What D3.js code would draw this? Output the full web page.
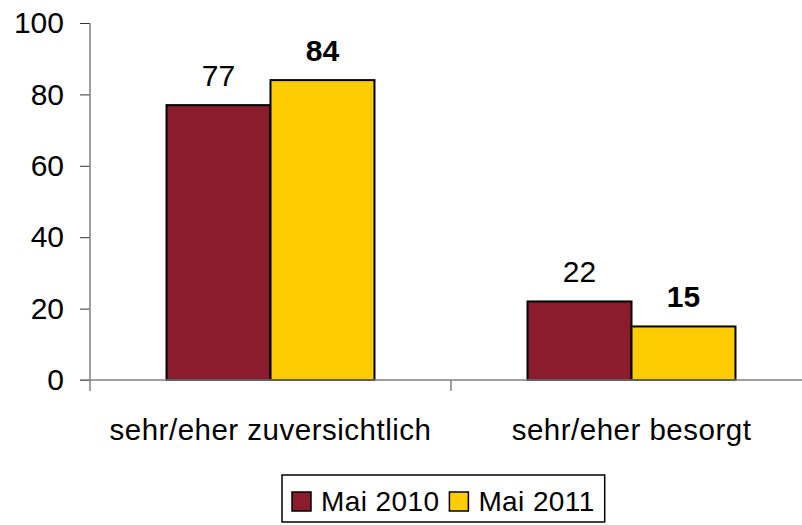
<!DOCTYPE html>
<html>
<head>
<meta charset="utf-8">
<script src="https://cdn.jsdelivr.net/npm/d3@7"></script>
<style>
  body { margin: 0; background: #fff; }
  text { font-family: "Liberation Sans", Arial, sans-serif; fill: #000; }
</style>
</head>
<body>
<script>
(function () {

// data
var categories = ["sehr/eher zuversichtlich", "sehr/eher besorgt"];
var seriesNames = ["Mai 2010", "Mai 2011"];
var values2010 = [77, 22];
var values2011 = [84, 15];
var yTicks = [0, 20, 40, 60, 80, 100];

var colors = ["#8b1c2e", "#ffcc00"];

var width = 802;
var height = 525;

var svg = d3.select("body")
  .append("svg")
    .attr("width", width)
    .attr("height", height);

// plot area (runs past the right edge, like the cropped original)
var left = 90, right = 812, top = 23, bottom = 380;

var y = d3.scaleLinear()
    .domain([0, 100])
    .range([bottom, top]);

var x0 = d3.scaleBand()
    .domain(categories)
    .range([left, right]);

var x1 = d3.scaleBand()
    .domain(seriesNames)
    .range([0, x0.bandwidth()])
    .paddingInner(0)
    .paddingOuter(0.736);

var rows = categories.map(function (c, i) {
  return { cat: c, vals: [
    { name: seriesNames[0], v: values2010[i], bold: false },
    { name: seriesNames[1], v: values2011[i], bold: true }
  ] };
});

var axisColor = "#808080";

// y axis
var yAxis = svg.append("g")
    .attr("transform", "translate(" + left + ",0)")
    .call(d3.axisLeft(y).tickValues(yTicks).tickSize(10).tickPadding(16));
yAxis.select(".domain").remove();
yAxis.selectAll(".tick line").attr("stroke", "#333");
yAxis.selectAll(".tick text")
    .attr("font-size", 30)
    .attr("font-family", "Liberation Sans, Arial, sans-serif")
    .attr("fill", "#000");
svg.append("line")
    .attr("x1", left).attr("x2", left)
    .attr("y1", top).attr("y2", bottom + 11)
    .attr("stroke", axisColor).attr("stroke-width", 1.5);

// bars
var groups = svg.selectAll(".grp")
    .data(rows)
    .enter()
    .append("g")
    .attr("class", "grp")
    .attr("transform", function (d) { return "translate(" + x0(d.cat) + ",0)"; });

groups.selectAll("rect")
    .data(function (d) { return d.vals; })
    .enter()
    .append("rect")
    .attr("x", function (d) { return x1(d.name); })
    .attr("y", function (d) { return y(d.v); })
    .attr("width", x1.bandwidth())
    .attr("height", function (d) { return y(0) - y(d.v); })
    .attr("fill", function (d, i) { return colors[i]; })
    .attr("stroke", "#000")
    .attr("stroke-width", 2);

groups.selectAll(".lbl")
    .data(function (d) { return d.vals; })
    .enter()
    .append("text")
    .attr("class", "lbl")
    .attr("x", function (d) { return x1(d.name) + x1.bandwidth() / 2; })
    .attr("y", function (d) { return y(d.v) - 19; })
    .attr("text-anchor", "middle")
    .attr("font-size", 30)
    .attr("font-weight", function (d) { return d.bold ? "bold" : "normal"; })
    .text(function (d) { return d.v; });

// x axis
svg.append("line")
    .attr("x1", left - 10).attr("x2", width)
    .attr("y1", bottom).attr("y2", bottom)
    .attr("stroke", axisColor).attr("stroke-width", 1.5);

svg.selectAll(".xtick")
    .data(categories.slice(1))
    .enter()
    .append("line")
    .attr("x1", function (d) { return x0(d); })
    .attr("x2", function (d) { return x0(d); })
    .attr("y1", bottom).attr("y2", bottom + 11)
    .attr("stroke", axisColor).attr("stroke-width", 1.5);

svg.selectAll(".xlabel")
    .data(categories)
    .enter()
    .append("text")
    .attr("x", function (d) { return x0(d) + x0.bandwidth() / 2; })
    .attr("y", 440)
    .attr("text-anchor", "middle")
    .attr("font-size", 29.5)
    .attr("letter-spacing", 0.5)
    .text(function (d) { return d; });

// legend (centred on the full original chart, so it runs to the right)
var legend = svg.append("g");
var legX = 282, legY = 475, legH = 47;
var box = legend.append("rect")
    .attr("x", legX).attr("y", legY)
    .attr("height", legH)
    .attr("fill", "#fff")
    .attr("stroke", "#000").attr("stroke-width", 1.5);

var cursor = legX + 10;
seriesNames.forEach(function (s, i) {
  legend.append("rect")
      .attr("x", cursor).attr("y", legY + 17)
      .attr("width", 19).attr("height", 19)
      .attr("fill", colors[i])
      .attr("stroke", "#000").attr("stroke-width", 1.5);
  var t = legend.append("text")
      .attr("x", cursor + 29).attr("y", legY + 36)
      .attr("font-size", 28)
      .attr("letter-spacing", 0.4)
      .text(s);
  cursor += 29 + t.node().getComputedTextLength() + 10;
});
box.attr("width", cursor - legX);

}());
</script>
</body>
</html>
